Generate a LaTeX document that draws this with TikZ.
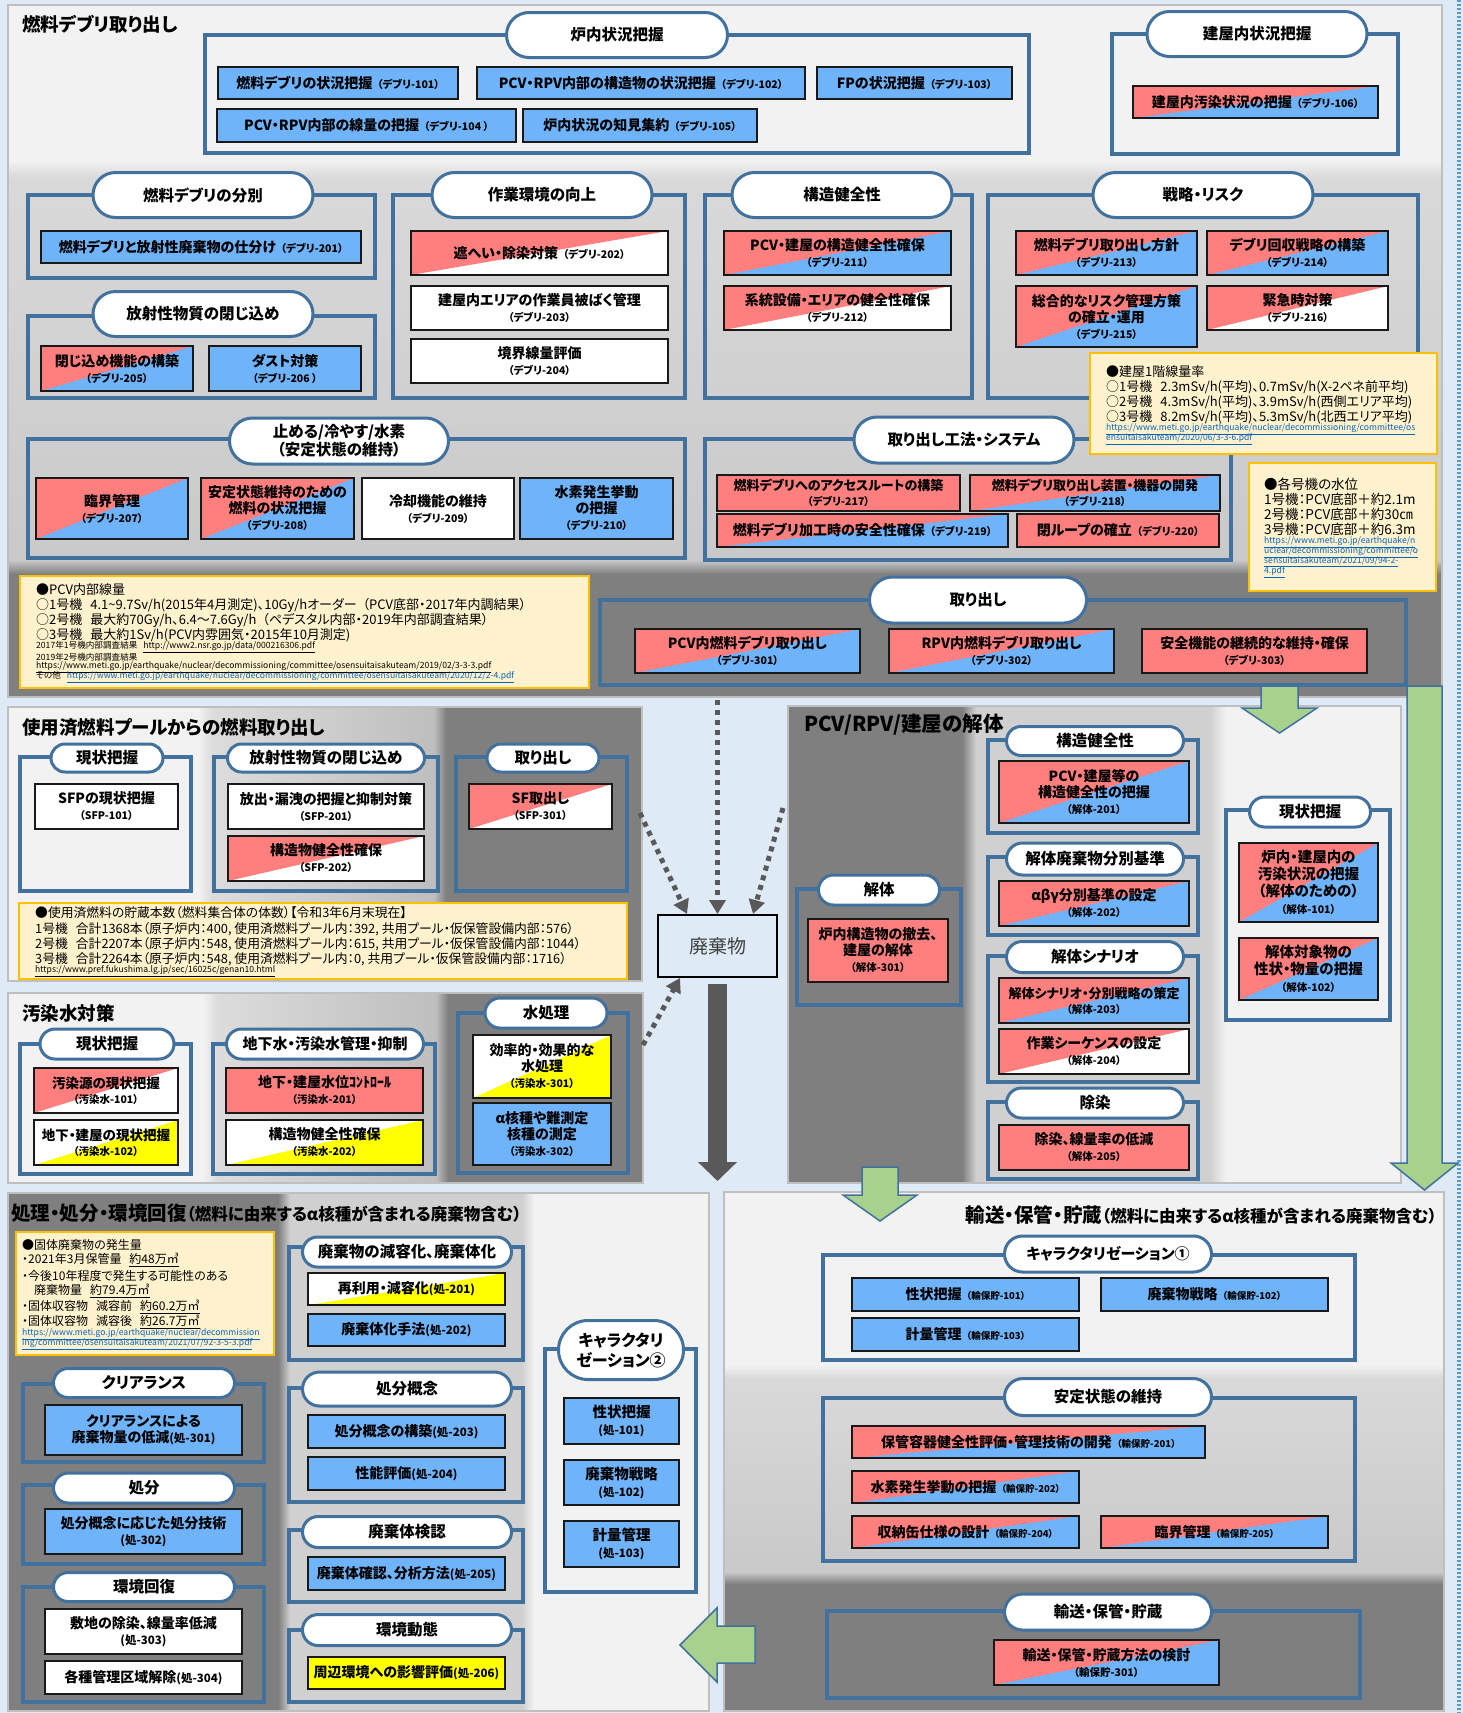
\documentclass[tikz,border=0pt]{standalone}
\usepackage{fontspec}
\setmainfont{Noto Sans CJK JP}[RawFeature=+palt]
\usetikzlibrary{shapes.misc,arrows.meta,calc}
\definecolor{bgc}{HTML}{DEEAF6}
\definecolor{pL}{HTML}{F2F2F2}
\definecolor{mTop}{HTML}{D9D9D9}
\definecolor{mBot}{HTML}{C9C9C9}
\definecolor{mA}{HTML}{DCDCDC}
\definecolor{mB}{HTML}{BEBEBE}
\definecolor{mC}{HTML}{D0D0D0}
\definecolor{pD}{HTML}{7F7F7F}
\definecolor{pBorder}{HTML}{BFBFBF}
\definecolor{steel}{HTML}{41719C}
\definecolor{pk}{HTML}{FF7F7F}
\definecolor{bl}{HTML}{6FB4FA}
\definecolor{yl}{HTML}{FFFF00}
\definecolor{nfill}{HTML}{FFF2CC}
\definecolor{nborder}{HTML}{FFC000}
\definecolor{grn}{HTML}{A9D18E}
\definecolor{darkarr}{HTML}{595959}
\definecolor{lnk}{HTML}{0563C1}
\definecolor{dotb}{HTML}{5B9BD5}
\newcommand\bxf{\fontsize{14}{16}\selectfont\bfseries}
\newcommand\bxs{\fontsize{13}{15}\selectfont\bfseries}
\newcommand\bxm{\fontsize{13.5}{15.5}\selectfont\bfseries}
\newcommand\bxl{\fontsize{14.5}{17}\selectfont\bfseries}
\newcommand\myid[1]{{\fontsize{10.5}{12}\selectfont #1}}
\newcommand\myidt[1]{{\fontsize{9.5}{11}\selectfont #1}}
\newcommand\myidp[1]{{\fontsize{11.5}{13}\selectfont #1}}
\tikzset{
 bx/.style={draw=black!90, line width=1.3pt, inner sep=1pt, align=center, font=\bxf, text=black},
 fB/.style={fill=bl}, fP/.style={fill=pk}, fW/.style={fill=white}, fY/.style={fill=yl},
 trifill/.style={path picture={\fill[#1] (path picture bounding box.north west) -- (path picture bounding box.north east) -- (path picture bounding box.south west) -- cycle;}},
 sPB/.style={fill=bl, trifill=pk},
 sPW/.style={fill=white, trifill=pk},
 sWY/.style={fill=yl, trifill=white},
 grpbox/.style={draw=steel, line width=4.5pt, inner sep=0pt},
 pillbox/.style={rounded rectangle, draw=steel, line width=3pt, fill=white, inner sep=0pt, align=center, font=\fontsize{15.5}{18}\selectfont\bfseries},
 notebox/.style={draw=nborder, line width=2.5pt, fill=nfill, inner sep=0pt},
 nl/.style={anchor=west, inner sep=0pt, font=\fontsize{13}{15}\selectfont, text=black},
 lk/.style={anchor=west, inner sep=0pt, font=\fontsize{8.6}{10}\selectfont, text=lnk},
 sk/.style={anchor=west, inner sep=0pt, font=\fontsize{8.6}{10}\selectfont, text=black},
 dotarrow/.style={draw=darkarr, line width=5pt, dash pattern=on 5pt off 5pt, -{Triangle[length=14pt,width=16pt]}},
 bigarrow/.style={draw=darkarr, line width=19pt, -{Triangle[length=19pt,width=38pt]}},
 garrow/.style={fill=grn, draw=steel, line width=1.5pt, line join=miter},
 sectitle/.style={anchor=west, inner sep=0pt, font=\fontsize{18.5}{20}\selectfont\bfseries},
}
\newcommand\mbx[8][]{\node[bx,#7,#1,minimum width={(#5)-(#3)},minimum height={(#6)-(#4)}] (#2) at ({((#3)+(#5))/2},{((#4)+(#6))/2}) {#8};}
\newcommand\mgrp[5]{\node[grpbox,minimum width={(#4)-(#2)},minimum height={(#5)-(#3)}] (#1) at ({((#2)+(#4))/2},{((#3)+(#5))/2}) {};}
\newcommand\mpill[7][]{\node[pillbox,#1,minimum width={#5},minimum height={#6}] (#2) at (#3,#4) {#7};}
\newcommand\mnote[5]{\node[notebox,minimum width={(#4)-(#2)},minimum height={(#5)-(#3)}] (#1) at ({((#2)+(#4))/2},{((#3)+(#5))/2}) {};}
\newcommand\mline[5][]{\node[nl,#1] (#2) at (#3,#4) {#5};}
\newcommand\mlink[5][]{\node[lk,#1] (#2) at (#3,#4) {\underline{#5}};}
\newcommand\gdown[6]{\filldraw[garrow] ({#1-#5},#2) -- ({#1+#5},#2) -- ({#1+#5},#3) -- ({#1+#6},#3) -- (#1,#4) -- ({#1-#6},#3) -- ({#1-#5},#3) -- cycle;}
\begin{document}
\begin{tikzpicture}[x=1pt,y=-1pt]
\useasboundingbox (0,0) rectangle (1463,1713);
\fill[bgc] (0,0) rectangle (1463,1713);
\draw[dotb, line width=3.5pt, dash pattern=on 2pt off 2pt] (1459,0) -- (1459,1713);
% ---------- panels ----------
% section 1
\fill[pL] (8,5) rectangle (1442,166);
\shade[top color=pL, bottom color=mTop] (8,160) rectangle (1442,178);
\shade[top color=mTop, bottom color=mBot] (8,178) rectangle (1442,560);
\shade[top color=mBot, bottom color=pD] (8,560) rectangle (1442,574);
\fill[pD] (8,574) rectangle (1442,697);
\draw[pBorder, line width=2pt] (8,5) rectangle (1442,697);
% section 2
\fill[pL] (8,707) rectangle (198,981);
\shade[left color=pL, right color=mA] (198,707) rectangle (212,981);
\shade[left color=mA, right color=mB] (212,707) rectangle (434,981);
\shade[left color=mB, right color=pD] (434,707) rectangle (446,981);
\fill[pD] (446,707) rectangle (642,981);
\draw[pBorder, line width=2pt] (8,707) rectangle (642,981);
% section 3
\fill[pL] (8,993) rectangle (203,1183);
\shade[left color=pL, right color=mA] (203,993) rectangle (217,1183);
\shade[left color=mA, right color=mB] (217,993) rectangle (436,1183);
\shade[left color=mB, right color=pD] (436,993) rectangle (448,1183);
\fill[pD] (448,993) rectangle (643,1183);
\draw[pBorder, line width=2pt] (8,993) rectangle (643,1183);
% section 4
\fill[pD] (788,706) rectangle (962,1183);
\shade[left color=pD, right color=mC] (962,706) rectangle (976,1183);
\fill[mC] (976,706) rectangle (1210,1183);
\shade[left color=mC, right color=pL] (1210,706) rectangle (1226,1183);
\fill[pL] (1226,706) rectangle (1401,1183);
\draw[pBorder, line width=2pt] (788,706) rectangle (1401,1183);
% section 6
\fill[pD] (8,1193) rectangle (278,1711);
\shade[left color=pD, right color=mC] (278,1193) rectangle (290,1711);
\fill[mC] (290,1193) rectangle (522,1711);
\shade[left color=mC, right color=pL] (522,1193) rectangle (534,1711);
\fill[pL] (534,1193) rectangle (709,1711);
\draw[pBorder, line width=2pt] (8,1193) rectangle (709,1711);
% section 5
\fill[pL] (724,1192) rectangle (1444,1365);
\shade[top color=pL, bottom color=mTop] (724,1365) rectangle (1444,1378);
\shade[top color=mTop, bottom color=mBot] (724,1378) rectangle (1444,1572);
\shade[top color=mBot, bottom color=pD] (724,1572) rectangle (1444,1584);
\fill[pD] (724,1584) rectangle (1444,1711);
\draw[pBorder, line width=2pt] (724,1192) rectangle (1444,1711);
% ---------- section titles ----------
\node[sectitle] (t1) at (22,24) {燃料デブリ取り出し};
\node[sectitle] (t2) at (22,727) {使用済燃料プールからの燃料取り出し};
\node[sectitle] (t3) at (22,1013) {汚染水対策};
\node[sectitle, font=\fontsize{20.5}{22}\selectfont\bfseries] (t4) at (804,725) {PCV/RPV/建屋の解体};
\node[sectitle, font=\fontsize{19.5}{21}\selectfont\bfseries] (t5) at (11,1213) {処理・処分・環境回復{\fontsize{16.5}{18}\selectfont（燃料に由来するα核種が含まれる廃棄物含む）}};
\node[sectitle, anchor=east, font=\fontsize{19.5}{21}\selectfont\bfseries] (t6) at (1437,1215) {輸送・保管・貯蔵{\fontsize{16.5}{18}\selectfont（燃料に由来するα核種が含まれる廃棄物含む）}};
% ---------- groups ----------
\mgrp{g1}{205}{35}{1029}{153}
\mgrp{g2}{1112}{34}{1398}{154}
\mgrp{g3}{28}{195}{375}{278}
\mgrp{g4}{28}{316}{375}{398}
\mgrp{g5}{393}{195}{685}{398}
\mgrp{g6}{705}{195}{972}{398}
\mgrp{g7}{988}{195}{1418}{398}
\mgrp{g8}{28}{439}{685}{558}
\mgrp{g9}{705}{439}{1231}{560}
\mgrp{g10}{600}{600}{1406}{685}
\mgrp{g11}{20}{757}{191}{891}
\mgrp{g12}{214}{757}{438}{891}
\mgrp{g13}{456}{757}{627}{891}
\mgrp{g14}{20}{1044}{191}{1174}
\mgrp{g15}{213}{1044}{435}{1174}
\mgrp{g16}{458}{1013}{628}{1173}
\mgrp{g17}{797}{889}{961}{1005}
\mgrp{g18}{988}{740}{1198}{833}
\mgrp{g19}{988}{857}{1198}{935}
\mgrp{g20}{988}{956}{1198}{1082}
\mgrp{g21}{988}{1102}{1198}{1179}
\mgrp{g22}{1226}{810}{1390}{1020}
\mgrp{g23}{823}{1255}{1355}{1360}
\mgrp{g24}{823}{1398}{1355}{1561}
\mgrp{g25}{827}{1611}{1360}{1698}
\mgrp{g26}{23}{1384}{264}{1462}
\mgrp{g27}{23}{1485}{264}{1564}
\mgrp{g28}{23}{1587}{264}{1702}
\mgrp{g29}{289}{1247}{523}{1360}
\mgrp{g30}{289}{1388}{523}{1502}
\mgrp{g31}{289}{1530}{523}{1602}
\mgrp{g32}{289}{1630}{523}{1702}
\mgrp{g33}{545}{1349}{696}{1592}
% ---------- boxes: section 1 ----------
\mbx{d101}{218}{67}{458}{99}{fB}{燃料デブリの状況把握\hspace{5pt}\myid{（デブリ-101）}}
\mbx{d102}{477}{67}{805}{99}{fB}{PCV・RPV内部の構造物の状況把握\hspace{5pt}\myid{（デブリ-102）}}
\mbx{d103}{817}{67}{1012}{99}{fB}{FPの状況把握\hspace{5pt}\myid{（デブリ-103）}}
\mbx{d104}{217}{109}{516}{142}{fB}{PCV・RPV内部の線量の把握\hspace{5pt}\myid{（デブリ-104 ）}}
\mbx{d105}{523}{109}{757}{142}{fB}{炉内状況の知見集約\hspace{5pt}\myid{（デブリ-105）}}
\mbx{d106}{1133}{86}{1378}{118}{sPB}{建屋内汚染状況の把握\hspace{5pt}\myid{（デブリ-106）}}
\mbx{d201}{41}{231}{361}{263}{fB}{燃料デブリと放射性廃棄物の仕分け\hspace{5pt}\myid{（デブリ-201）}}
\mbx{d205}{41}{346}{193}{391}{sPB}{閉じ込め機能の構築\\\myid{（デブリ-205）}}
\mbx{d206}{209}{346}{361}{391}{fB}{ダスト対策\\\myid{（デブリ-206 ）}}
\mbx{d202}{411}{231}{668}{275}{sPW}{遮へい・除染対策\hspace{5pt}\myid{（デブリ-202）}}
\mbx{d203}{411}{286}{668}{330}{fW}{建屋内エリアの作業員被ばく管理\\\myid{（デブリ-203）}}
\mbx{d204}{411}{339}{668}{383}{fW}{境界線量評価\\\myid{（デブリ-204）}}
\mbx{d211}{724}{231}{951}{275}{sPB}{PCV・建屋の構造健全性確保\\\myid{（デブリ-211）}}
\mbx{d212}{724}{286}{951}{330}{sPW}{系統設備・エリアの健全性確保\\\myid{（デブリ-212）}}
\mbx{d213}{1016}{231}{1197}{275}{sPB}{燃料デブリ取り出し方針\\\myid{（デブリ-213）}}
\mbx{d214}{1207}{231}{1388}{275}{sPB}{デブリ回収戦略の構築\\\myid{（デブリ-214）}}
\mbx{d215}{1016}{286}{1197}{347}{sPB}{総合的なリスク管理方策\\の確立・運用\\\myid{（デブリ-215）}}
\mbx{d216}{1207}{286}{1388}{330}{sPW}{緊急時対策\\\myid{（デブリ-216）}}
\mbx{d207}{36}{478}{188}{539}{sPB}{臨界管理\\\myid{（デブリ-207）}}
\mbx{d208}{201}{478}{354}{539}{sPB}{安定状態維持のための\\燃料の状況把握\\\myid{（デブリ-208）}}
\mbx{d209}{362}{478}{514}{539}{fW}{冷却機能の維持\\\myid{（デブリ-209）}}
\mbx{d210}{520}{478}{673}{539}{fB}{水素発生挙動\\の把握\\\myid{（デブリ-210）}}
\mbx[font=\bxs]{d217}{717}{475}{960}{511}{fP}{燃料デブリへのアクセスルートの構築\\\myid{（デブリ-217）}}
\mbx[font=\bxs]{d218}{970}{475}{1220}{511}{sPB}{燃料デブリ取り出し装置・機器の開発\\\myid{（デブリ-218）}}
\mbx{d219}{717}{514}{1008}{547}{sPB}{燃料デブリ加工時の安全性確保\hspace{5pt}\myid{（デブリ-219）}}
\mbx{d220}{1017}{514}{1219}{547}{fP}{閉ループの確立\hspace{5pt}\myid{（デブリ-220）}}
\mbx{d301}{635}{629}{860}{673}{sPB}{PCV内燃料デブリ取り出し\\\myid{（デブリ-301）}}
\mbx{d302}{889}{629}{1114}{673}{sPB}{RPV内燃料デブリ取り出し\\\myid{（デブリ-302）}}
\mbx{d303}{1142}{629}{1367}{673}{fP}{安全機能の継続的な維持・確保\\\myid{（デブリ-303）}}
% ---------- section 2 ----------
\mbx{s101}{35}{784}{178}{829}{fW}{SFPの現状把握\\\myid{（SFP-101）}}
\mbx{s201}{228}{784}{424}{829}{fW}{放出・漏洩の把握と抑制対策\\\myid{（SFP-201）}}
\mbx{s202}{228}{836}{424}{881}{sPW}{構造物健全性確保\\\myid{（SFP-202）}}
\mbx{s301}{469}{784}{612}{829}{sPW}{SF取出し\\\myid{（SFP-301）}}
% ---------- section 3 ----------
\mbx[font=\bxm]{w101}{34}{1068}{178}{1113}{sPW}{汚染源の現状把握\\\myid{（汚染水-101）}}
\mbx[font=\bxm]{w102}{34}{1120}{178}{1165}{sWY}{地下・建屋の現状把握\\\myid{（汚染水-102）}}
\mbx{w201}{226}{1068}{423}{1113}{fP}{地下・建屋水位ｺﾝﾄﾛｰﾙ\\\myid{（汚染水-201）}}
\mbx{w202}{226}{1120}{423}{1165}{sWY}{構造物健全性確保\\\myid{（汚染水-202）}}
\mbx{w301}{473}{1035}{611}{1098}{sWY}{効率的・効果的な\\水処理\\\myid{（汚染水-301）}}
\mbx{w302}{473}{1103}{611}{1165}{fB}{α核種や難測定\\核種の測定\\\myid{（汚染水-302）}}
% ---------- section 4 ----------
\mbx{k301}{808}{919}{948}{982}{fP}{炉内構造物の撤去、\\建屋の解体\\\myid{（解体-301）}}
\mbx{k201}{999}{761}{1189}{823}{sPB}{PCV・建屋等の\\構造健全性の把握\\\myid{（解体-201）}}
\mbx{k202}{999}{881}{1189}{926}{sPB}{αβγ分別基準の設定\\\myid{（解体-202）}}
\mbx[font=\bxs]{k203}{999}{978}{1189}{1023}{sPB}{解体シナリオ・分別戦略の策定\\\myid{（解体-203）}}
\mbx{k204}{999}{1029}{1189}{1074}{sPW}{作業シーケンスの設定\\\myid{（解体-204）}}
\mbx{k205}{999}{1125}{1189}{1170}{fP}{除染、線量率の低減\\\myid{（解体-205）}}
\mbx[font=\bxl]{k101}{1239}{843}{1378}{922}{sPB}{炉内・建屋内の\\汚染状況の把握\\（解体のための）\\\myid{（解体-101）}}
\mbx[font=\bxl]{k102}{1239}{938}{1378}{1000}{sPB}{解体対象物の\\性状・物量の把握\\\myid{（解体-102）}}
% ---------- section 5 ----------
\mbx{t101}{852}{1278}{1079}{1311}{fB}{性状把握\hspace{5pt}\myidt{（輸保貯-101）}}
\mbx{t102}{1101}{1278}{1328}{1311}{fB}{廃棄物戦略\hspace{5pt}\myidt{（輸保貯-102）}}
\mbx{t103}{852}{1318}{1079}{1351}{fB}{計量管理\hspace{5pt}\myidt{（輸保貯-103）}}
\mbx{t201}{852}{1426}{1205}{1458}{sPB}{保管容器健全性評価・管理技術の開発\hspace{5pt}\myidt{（輸保貯-201）}}
\mbx{t202}{852}{1471}{1079}{1503}{sPB}{水素発生挙動の把握\hspace{5pt}\myidt{（輸保貯-202）}}
\mbx{t204}{852}{1516}{1079}{1548}{sPB}{収納缶仕様の設計\hspace{5pt}\myidt{（輸保貯-204）}}
\mbx{t205}{1101}{1516}{1328}{1548}{sPB}{臨界管理\hspace{5pt}\myidt{（輸保貯-205）}}
\mbx{t301}{994}{1640}{1219}{1685}{sPB}{輸送・保管・貯蔵方法の検討\\\myid{（輸保貯-301）}}
% ---------- section 6 ----------
\mbx{p301}{45}{1405}{242}{1455}{fB}{クリアランスによる\\廃棄物量の低減\myidp{(処-301)}}
\mbx{p302}{45}{1509}{242}{1554}{fB}{処分概念に応じた処分技術\\\myidp{(処-302)}}
\mbx{p303}{45}{1609}{242}{1654}{fW}{敷地の除染、線量率低減\\\myidp{(処-303)}}
\mbx{p304}{45}{1661}{242}{1694}{fW}{各種管理区域解除\myidp{(処-304)}}
\mbx{p201}{308}{1273}{505}{1305}{sWY}{再利用・減容化\myidp{(処-201)}}
\mbx{p202}{308}{1314}{505}{1346}{fB}{廃棄体化手法\myidp{(処-202)}}
\mbx{p203}{308}{1415}{505}{1448}{fB}{処分概念の構築\myidp{(処-203)}}
\mbx{p204}{308}{1457}{505}{1490}{fB}{性能評価\myidp{(処-204)}}
\mbx{p205}{308}{1557}{505}{1590}{fB}{廃棄体確認、分析方法\myidp{(処-205)}}
\mbx{p206}{308}{1657}{505}{1689}{fY}{周辺環境への影響評価\myidp{(処-206)}}
\mbx[font=\bxl]{c101}{564}{1398}{679}{1444}{fB}{性状把握\\\myidp{(処-101)}}
\mbx[font=\bxl]{c102}{564}{1460}{679}{1505}{fB}{廃棄物戦略\\\myidp{(処-102)}}
\mbx[font=\bxl]{c103}{564}{1521}{679}{1567}{fB}{計量管理\\\myidp{(処-103)}}
% ---------- pills ----------
\mpill{pl1}{617}{35}{221}{45}{炉内状況把握}
\mpill{pl2}{1257}{34}{220}{45}{建屋内状況把握}
\mpill{pl3}{203}{195}{220}{45}{燃料デブリの分別}
\mpill{pl4}{203}{314}{220}{45}{放射性物質の閉じ込め}
\mpill{pl5}{542}{195}{220}{45}{作業環境の向上}
\mpill{pl6}{842}{195}{220}{45}{構造健全性}
\mpill{pl7}{1203}{195}{220}{45}{戦略・リスク}
\mpill{pl8}{339}{441}{219}{46}{止める/冷やす/水素\\（安定状態の維持）}
\mpill{pl9}{964}{440}{220}{46}{取り出し工法・システム}
\mpill{pl10}{978}{600}{217}{46}{取り出し}
\mpill{pl11}{107}{758}{112}{28}{現状把握}
\mpill{pl12}{326}{758}{197}{28}{放射性物質の閉じ込め}
\mpill{pl13}{543}{758}{112}{28}{取り出し}
\mpill{pl14}{107}{1044}{134}{30}{現状把握}
\mpill[font=\fontsize{15}{17}\selectfont\bfseries]{pl15}{325}{1044}{197}{30}{地下水・汚染水管理・抑制}
\mpill{pl16}{546}{1013}{122}{30}{水処理}
\mpill{pl17}{879}{890}{121}{30}{解体}
\mpill{pl18}{1095}{741}{177}{29}{構造健全性}
\mpill{pl19}{1095}{859}{177}{32}{解体廃棄物分別基準}
\mpill{pl20}{1095}{957}{177}{31}{解体シナリオ}
\mpill{pl21}{1095}{1103}{177}{30}{除染}
\mpill{pl22}{1310}{812}{121}{30}{現状把握}
\mpill[font=\fontsize{15}{17}\selectfont\bfseries]{pl23}{1108}{1254}{207}{36}{キャラクタリゼーション①}
\mpill{pl24}{1108}{1397}{207}{37}{安定状態の維持}
\mpill{pl25}{1108}{1612}{207}{36}{輸送・保管・貯蔵}
\mpill{pl26}{144}{1383}{181}{29}{クリアランス}
\mpill{pl27}{144}{1488}{181}{30}{処分}
\mpill{pl28}{144}{1587}{181}{29}{環境回復}
\mpill{pl29}{407}{1252}{209}{30}{廃棄物の減容化、廃棄体化}
\mpill{pl30}{407}{1389}{209}{34}{処分概念}
\mpill{pl31}{407}{1532}{209}{31}{廃棄体検認}
\mpill{pl32}{407}{1630}{209}{31}{環境動態}
\mpill[font=\fontsize{16}{20}\selectfont\bfseries]{pl33}{621}{1350}{125}{59}{キャラクタリ\\ゼーション②}
% ---------- notes ----------
\mnote{note1}{1090}{353}{1437}{454}
\mline{n1a}{1106}{372}{●建屋1階線量率}
\mline{n1b}{1106}{387}{○1号機\hspace{8pt}2.3mSv/h(平均)、0.7mSv/h(X-2ペネ前平均)}
\mline{n1c}{1106}{402}{○2号機\hspace{8pt}4.3mSv/h(平均)、3.9mSv/h(西側エリア平均)}
\mline{n1d}{1106}{417}{○3号機\hspace{8pt}8.2mSv/h(平均)、5.3mSv/h(北西エリア平均)}
\mlink{n1e}{1106}{429}{https://www.meti.go.jp/earthquake/nuclear/decommissioning/committee/os}
\mlink{n1f}{1106}{439}{ensuitaisakuteam/2020/06/3-3-6.pdf}
\mnote{note2}{1249}{463}{1436}{591}
\mline[font=\fontsize{13.5}{15}\selectfont]{n2a}{1264}{484}{●各号機の水位}
\mline[font=\fontsize{13.5}{15}\selectfont]{n2b}{1264}{499}{1号機：PCV底部＋約2.1m}
\mline[font=\fontsize{13.5}{15}\selectfont]{n2c}{1264}{514}{2号機：PCV底部＋約30㎝}
\mline[font=\fontsize{13.5}{15}\selectfont]{n2d}{1264}{529}{3号機：PCV底部＋約6.3m}
\mlink{n2e}{1264}{542}{https://www.meti.go.jp/earthquake/n}
\mlink{n2f}{1264}{552}{uclear/decommissioning/committee/o}
\mlink{n2g}{1264}{562}{sensuitaisakuteam/2021/09/94-2-}
\mlink{n2h}{1264}{572}{4.pdf}
\mnote{note3}{20}{576}{589}{688}
\mline[font=\fontsize{13}{15}\selectfont]{n3a}{36}{590}{●PCV内部線量}
\mline[font=\fontsize{13}{15}\selectfont]{n3b}{36}{605}{○1号機\hspace{8pt}4.1\textasciitilde 9.7Sv/h(2015年4月測定)、10Gy/hオーダー\hspace{6pt}（PCV底部・2017年内調結果）}
\mline[font=\fontsize{13}{15}\selectfont]{n3c}{36}{620}{○2号機\hspace{8pt}最大約70Gy/h、6.4～7.6Gy/h\hspace{6pt}（ペデスタル内部・2019年内部調査結果）}
\mline[font=\fontsize{13}{15}\selectfont]{n3d}{36}{635}{○3号機\hspace{8pt}最大約1Sv/h(PCV内雰囲気・2015年10月測定)}
\node[sk] (n3e) at (36,647) {2017年1号機内部調査結果\hspace{6pt}\underline{http://www2.nsr.go.jp/data/000216306.pdf}};
\node[sk] (n3f) at (36,657) {2019年2号機内部調査結果};
\node[sk] (n3g) at (36,667) {\underline{https://www.meti.go.jp/earthquake/nuclear/decommissioning/committee/osensuitaisakuteam/2019/02/3-3-3.pdf}};
\node[sk] (n3h) at (36,677) {その他\hspace{6pt}{\color{lnk}\underline{https://www.meti.go.jp/earthquake/nuclear/decommissioning/committee/osensuitaisakuteam/2020/12/2-4.pdf}}};
\mnote{note4}{19}{903}{627}{979}
\mline[font=\fontsize{12.8}{15}\selectfont]{n4a}{35}{913}{●使用済燃料の貯蔵本数（燃料集合体の体数）【令和3年6月末現在】}
\mline[font=\fontsize{12.8}{15}\selectfont]{n4b}{35}{929}{1号機\hspace{8pt}合計1368本（原子炉内：400, 使用済燃料プール内：392, 共用プール・仮保管設備内部：576）}
\mline[font=\fontsize{12.8}{15}\selectfont]{n4c}{35}{944}{2号機\hspace{8pt}合計2207本（原子炉内：548, 使用済燃料プール内：615, 共用プール・仮保管設備内部：1044）}
\mline[font=\fontsize{12.8}{15}\selectfont]{n4d}{35}{959}{3号機\hspace{8pt}合計2264本（原子炉内：548, 使用済燃料プール内：0, 共用プール・仮保管設備内部：1716）}
\node[sk] (n4e) at (35,971) {\underline{https://www.pref.fukushima.lg.jp/sec/16025c/genan10.html}};
\mnote{note5}{16}{1232}{274}{1355}
\mline[font=\fontsize{12}{14}\selectfont]{n5a}{22}{1245}{●固体廃棄物の発生量}
\mline[font=\fontsize{12}{14}\selectfont]{n5b}{22}{1260}{・2021年3月保管量\hspace{8pt}\underline{約48万㎥}}
\mline[font=\fontsize{12}{14}\selectfont]{n5c}{22}{1276}{・今後10年程度で発生する可能性のある}
\mline[font=\fontsize{12}{14}\selectfont]{n5d}{22}{1291}{\hspace{12pt}廃棄物量\hspace{8pt}\underline{約79.4万㎥}}
\mline[font=\fontsize{12}{14}\selectfont]{n5e}{22}{1307}{・固体収容物\hspace{8pt}減容前\hspace{8pt}\underline{約60.2万㎥}}
\mline[font=\fontsize{12}{14}\selectfont]{n5f}{22}{1322}{・固体収容物\hspace{8pt}減容後\hspace{8pt}\underline{約26.7万㎥}}
\mlink{n5g}{22}{1334}{https://www.meti.go.jp/earthquake/nuclear/decommission}
\mlink{n5h}{22}{1344}{ing/committee/osensuitaisakuteam/2021/07/92-3-5-3.pdf}
% ---------- waste node and arrows ----------
\node[draw=black, line width=2pt, fill=bgc, minimum width=119, minimum height=62, inner sep=0pt, font=\fontsize{19}{22}\selectfont, text=black!75] (waste) at (717.5,946) {廃棄物};
\coordinate (dA) at (717.5,700);
\coordinate (dB) at (640,813);
\coordinate (dC) at (783,808);
\coordinate (dD) at (643,1045);
\coordinate (bigEnd) at (717.5,1181);
\draw[dotarrow] (dA) -- (waste.north);
\draw[dotarrow] (dB) -- ($(waste.north west)+(30,0)$);
\draw[dotarrow] (dC) -- ($(waste.north east)+(-25,0)$);
\draw[dotarrow] (dD) -- ($(waste.south west)+(23,0)$);
\draw[bigarrow] ($(waste.south)+(0,6)$) -- (bigEnd);
\gdown{1279.5}{686}{708}{733}{18.5}{37.5}
\gdown{1424.5}{686}{1163}{1190}{17.5}{33.5}
\gdown{880}{1167}{1195}{1221}{18}{37}
\filldraw[garrow] (755,1626) -- (755,1663) -- (717,1663) -- (717,1682) -- (680,1645) -- (717,1608) -- (717,1626) -- cycle;
\end{tikzpicture}
\end{document}
